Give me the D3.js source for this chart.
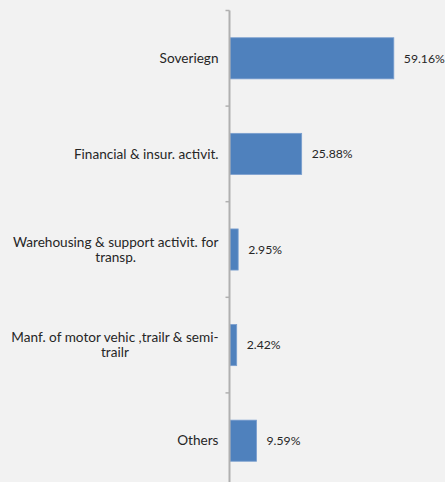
<!DOCTYPE html>
<html>
<head>
<meta charset="utf-8">
<script src="https://cdn.jsdelivr.net/npm/d3@7"></script>
<style>
  html, body { margin: 0; padding: 0; background: #f2f2f2; }
  svg { display: block; }
  text { font-family: "Century Gothic", Lato, "Open Sans", sans-serif; fill: #262626; }
</style>
</head>
<body>
<svg id="chart" width="445" height="482"></svg>
<script>
// Sector breakdown (share of total, %)
const categories = [
  "Soveriegn",
  "Financial & insur. activit.",
  "Warehousing & support activit. for\ntransp.",
  "Manf. of motor vehic ,trailr & semi-\ntrailr",
  "Others"
];
const values = [59.16, 25.88, 2.95, 2.42, 9.59];
const valueLabels = ["59.16%", "25.88%", "2.95%", "2.42%", "9.59%"];

const W = 445, H = 482;
const axisX = 230, plotTop = 10.5, plotBottom = 488.5;

const svg = d3.select("#chart");
svg.append("rect").attr("width", W).attr("height", H).attr("fill", "#f2f2f2");

const x = d3.scaleLinear().domain([0, 70]).range([axisX, axisX + 70 * 2.769]);
const y = d3.scaleBand().domain(categories).range([plotTop, plotBottom])
  .paddingInner(0.57).paddingOuter(0.285);

// bars
svg.append("g").selectAll("rect").data(values).join("rect")
  .attr("x", x(0))
  .attr("y", (d, i) => y(categories[i]))
  .attr("width", d => x(d) - x(0))
  .attr("height", y.bandwidth())
  .attr("fill", "#4f81bd")
  .attr("stroke", "#7a9fcf")
  .attr("stroke-width", 0.8);

// category axis: line plus ticks at band boundaries
const axis = svg.append("g");
axis.append("line")
  .attr("x1", axisX - 0.5).attr("x2", axisX - 0.5)
  .attr("y1", plotTop).attr("y2", plotBottom)
  .attr("stroke", "#b0b0b0").attr("stroke-width", 2);
const step = y.step();
const boundaries = d3.range(categories.length + 1).map(i => plotTop + i * step);
axis.selectAll("line.tick").data(boundaries).join("line")
  .attr("class", "tick")
  .attr("x1", axisX - 4.5).attr("x2", axisX - 0.5)
  .attr("y1", d => d).attr("y2", d => d)
  .attr("stroke", "#b0b0b0").attr("stroke-width", 1.5);

// category labels (right aligned block, centred lines)
const lineH = 15;
categories.forEach((c, i) => {
  const lines = c.split("\n");
  const cy = y(c) + y.bandwidth() / 2;
  const t = svg.append("text")
    .attr("font-size", 13.6)
    .attr("text-anchor", "middle");
  lines.forEach((ln, j) => {
    t.append("tspan").attr("x", 0)
      .attr("y", cy + (j - (lines.length - 1) / 2) * lineH)
      .attr("dy", "0.35em")
      .text(ln);
  });
  const wMax = d3.max(t.selectAll("tspan").nodes(), n => n.getComputedTextLength());
  const rightEdge = axisX - 11.5;
  t.selectAll("tspan").attr("x", rightEdge - wMax / 2);
});

// value labels
svg.append("g").selectAll("text").data(values).join("text")
  .attr("x", d => x(d) + 10)
  .attr("y", (d, i) => y(categories[i]) + y.bandwidth() / 2)
  .attr("dy", "0.35em")
  .attr("font-size", 12.2)
  .text((d, i) => valueLabels[i]);
</script>
</body>
</html>
